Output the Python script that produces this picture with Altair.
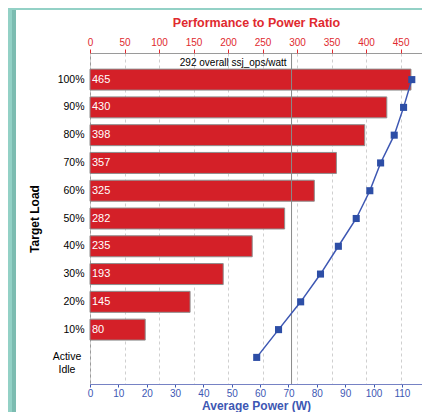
import altair as alt
import pandas as pd

# ---- data ----
loads = ["100%", "90%", "80%", "70%", "60%", "50%", "40%", "30%", "20%", "10%", "Active Idle"]
ratios = [465, 430, 398, 357, 325, 282, 235, 193, 145, 80, None]
power = [113.5, 110.6, 107.3, 102.5, 98.7, 93.9, 87.6, 81.3, 74.3, 66.5, 58.8]
overall = 292
ratio_ticks = [0, 50, 100, 150, 200, 250, 300, 350, 400, 450]
power_ticks = [0, 10, 20, 30, 40, 50, 60, 70, 80, 90, 100, 110]

df = pd.DataFrame({"load": loads, "ratio": ratios, "power": power})
bars_df = df.dropna().copy()
bars_df["zero"] = 0
idle_df = pd.DataFrame({"load": [loads[-1]], "label": [loads[-1].replace(" ", "\n")]})
overall_df = pd.DataFrame({"overall": [overall],
                           "label": [f"{overall} overall ssj_ops/watt"]})
dummy = pd.DataFrame({"a": [0]})

FONT = "Liberation Sans"
RED = "#d42028"
RED_TXT = "#e02a2f"
BLUE = "#3d57b3"
BLUE_PT = "#2d4ea6"
TEAL = "#93d1c6"

W, H = 332, 331
ratio_scale = alt.Scale(domain=[0, 481], nice=False)
power_scale = alt.Scale(domain=[0, 117.1], nice=False)
y_scale = alt.Scale(domain=loads, paddingInner=0.245, paddingOuter=0.58)

y_axis = alt.Axis(
    title="Target Load", titleFontSize=12, titleFontWeight="bold", titleColor="black",
    titlePadding=16, labelColor="black", labelFontSize=10.5, labelPadding=6,
    ticks=False, domain=False,
    labelExpr="datum.value == 'Active Idle' ? '' : datum.value",
)

top_axis = alt.Axis(
    orient="top", title="Performance to Power Ratio", values=ratio_ticks,
    tickCount=len(ratio_ticks),
    titleColor=RED_TXT, titleFontSize=12.5, titleFontWeight="bold", titlePadding=8,
    labelColor=RED_TXT, labelFontSize=10, labelPadding=2, labelOverlap=False,
    labelFlush=False, tickColor=RED_TXT, tickSize=4, domain=False,
    grid=True, gridColor="#cfcfcf", gridDash=[3, 3], gridWidth=1,
)

bottom_axis = alt.Axis(
    orient="bottom", title="Average Power (W)", values=power_ticks,
    tickCount=len(power_ticks),
    titleColor=BLUE, titleFontSize=12, titleFontWeight="bold", titlePadding=2,
    labelColor=BLUE, labelFontSize=10, labelPadding=1, labelOverlap=False,
    labelFlush=False, tickColor=BLUE, tickSize=3, domain=True,
    domainColor="#7682c4", grid=False,
)

# decorative teal margin strips
strip = alt.Chart(dummy).mark_rect(color=TEAL).encode(
    x=alt.value(-82), x2=alt.value(-74), y=alt.value(-45), y2=alt.value(366))
shadow = alt.Chart(dummy).mark_rect(color="#7cbcb1").encode(
    x=alt.value(-78), x2=alt.value(-74), y=alt.value(-43), y2=alt.value(366))
topstrip = alt.Chart(dummy).mark_rect(color=TEAL).encode(
    x=alt.value(-82), x2=alt.value(340), y=alt.value(-45), y2=alt.value(-43))

bars = alt.Chart(bars_df).mark_bar(color=RED, stroke="#8e8e8e", strokeWidth=1).encode(
    x=alt.X("ratio:Q", scale=ratio_scale, axis=top_axis),
    y=alt.Y("load:N", scale=y_scale, sort=loads, axis=y_axis),
)

bar_text = alt.Chart(bars_df).mark_text(
    align="left", baseline="middle", dx=2, color="white", fontSize=11, font=FONT
).encode(
    x=alt.X("zero:Q", scale=ratio_scale),
    y=alt.Y("load:N", scale=y_scale, sort=loads),
    text=alt.Text("ratio:Q", format="d"),
)

idle_text = alt.Chart(idle_df).mark_text(
    align="center", baseline="middle", lineBreak="\n", lineHeight=13,
    fontSize=10.5, color="black", font=FONT
).encode(
    x=alt.value(-23),
    y=alt.Y("load:N", scale=y_scale, sort=loads),
    text="label:N",
)

rule = alt.Chart(overall_df).mark_rule(color="#8a8a8a", strokeWidth=1).encode(
    x=alt.X("overall:Q", scale=ratio_scale),
)

header = alt.Chart(overall_df).mark_text(
    align="right", baseline="middle", dx=-5, fontSize=10, color="black", font=FONT
).encode(
    x=alt.X("overall:Q", scale=ratio_scale),
    y=alt.value(10),
    text="label:N",
)

line = alt.Chart(df).mark_line(color=BLUE, strokeWidth=1.5).encode(
    x=alt.X("power:Q", scale=power_scale, axis=bottom_axis),
    y=alt.Y("load:N", scale=y_scale, sort=loads),
)

points = alt.Chart(df).mark_square(size=50, color=BLUE_PT, opacity=1).encode(
    x=alt.X("power:Q", scale=power_scale),
    y=alt.Y("load:N", scale=y_scale, sort=loads),
)

ratio_layer = alt.layer(strip, shadow, topstrip, bars, bar_text, idle_text, rule, header)
power_layer = alt.layer(line, points)

chart = alt.layer(ratio_layer, power_layer).resolve_scale(x="independent").properties(
    width=W, height=H,
    autosize=alt.AutoSizeParams(type="none"),
    padding={"left": 82, "top": 45, "right": 0, "bottom": 28},
    background="white",
).configure_view(stroke="#9a9a9a", strokeWidth=1).configure_axis(
    labelFont=FONT, titleFont=FONT, labelOverlap=False
)

chart.save("out.html", embed_options={"renderer": "svg", "actions": False})
